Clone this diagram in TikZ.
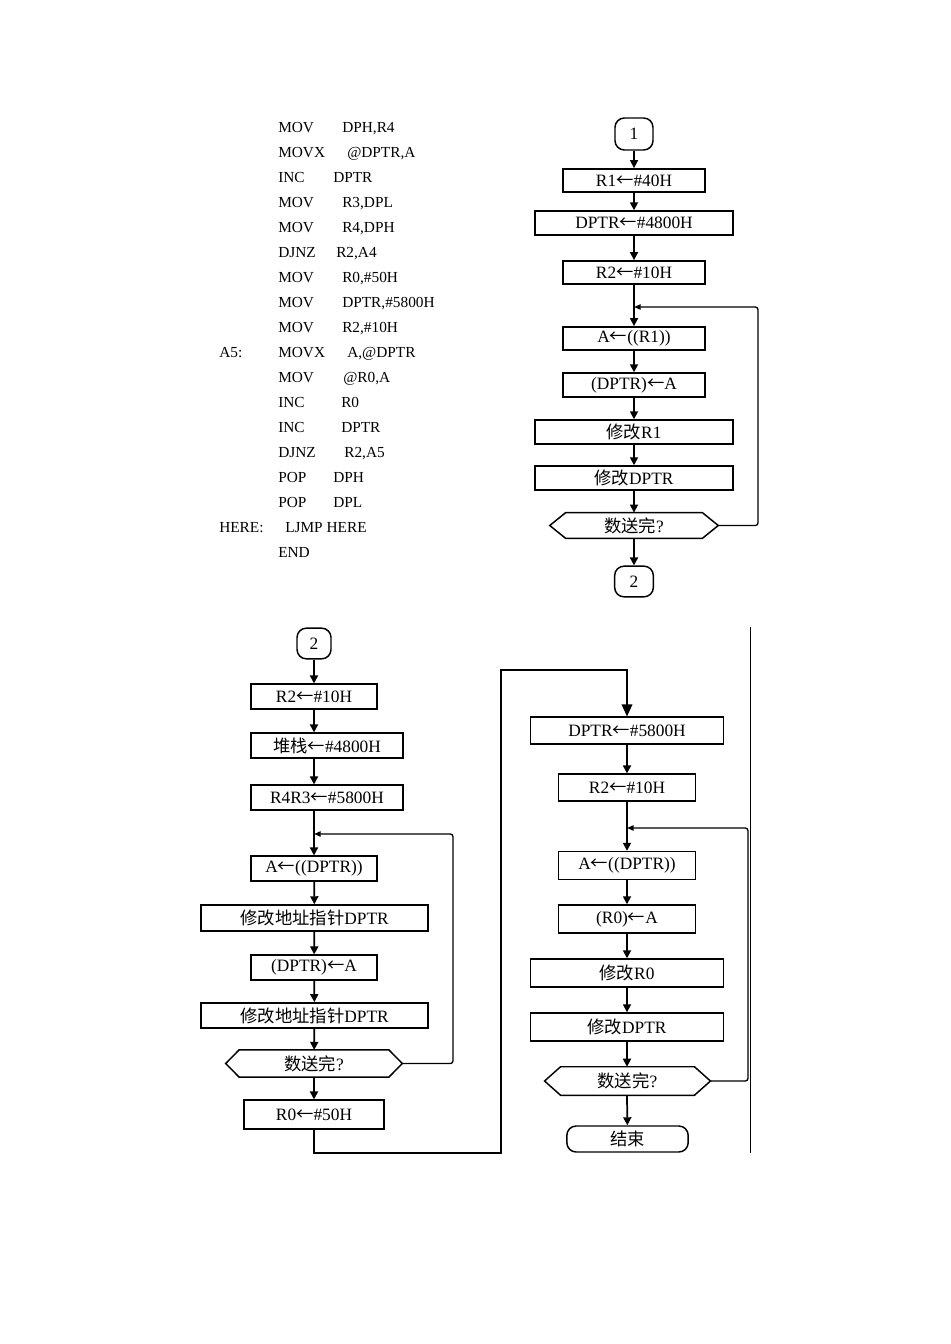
\documentclass[tikz,border=0pt]{standalone}
\usepackage{fontspec}
\setmainfont{Liberation Serif}
\newfontfamily\cjk{Noto Sans CJK SC}
\newcommand{\lar}{{\cjk ←}}
\usetikzlibrary{arrows.meta}
\begin{document}
\begin{tikzpicture}[x=0.75pt,y=-0.75pt,
  box/.style={draw,line width=1.1pt,inner sep=0pt,font=\fontsize{13}{13}\selectfont},
  term/.style={box,rounded corners=7pt},
  hex/.style={inner sep=0pt,font=\fontsize{13}{13}\selectfont},
  ar/.style={line width=1.3pt,-{Triangle[width=6pt,length=6pt]}},
  ln/.style={line width=1pt},
  la/.style={line width=1pt,-{Triangle[width=4pt,length=5pt]}},
  code/.style={anchor=base west,inner sep=0pt,font=\fontsize{11.5}{11.5}\selectfont}]
\useasboundingbox (0,0) rectangle (950,1344);
% code
\foreach \y/\m/\xo/\o in {133/MOV/342/{DPH,R4},158/MOVX/347/{@DPTR,A},183/INC/333/DPTR,208/MOV/342/{R3,DPL},233/MOV/342/{R4,DPH},258/DJNZ/336/{R2,A4},282/MOV/342/{R0,\#50H},307/MOV/342/{DPTR,\#5800H},332/MOV/342/{R2,\#10H},357/MOVX/347/{A,@DPTR},382/MOV/343/{@R0,A},407/INC/341/R0,432/INC/341/DPTR,457/DJNZ/344/{R2,A5},482/POP/333/DPH,507/POP/333/DPL}
  {\node[code] at (278,\y) {\m}; \node[code] at (\xo,\y) {\o};}
\node[code] (la5) at (219,357) {A5:};
\node[code] (lhere) at (219,532) {HERE:};
\node[code] at (285,532) {LJMP HERE};
\node[code] at (278,557) {END};

% ---------- top-right chart
\node[term,minimum width=28.5pt,minimum height=24pt] (c1) at (634,134) {1};
\node[box,minimum width=106.5pt,minimum height=17.5pt] (a1) at (634,180.5) {R1\lar\#40H};
\node[box,minimum width=148.5pt,minimum height=18pt] (a2) at (634,223) {DPTR\lar\#4800H};
\node[box,minimum width=106.5pt,minimum height=17.5pt] (a3) at (634,272.5) {R2\lar\#10H};
\coordinate (j1) at (634,307);
\node[box,minimum width=106.5pt,minimum height=17.5pt] (a4) at (634,338.5) {A\lar((R1))};
\node[box,minimum width=106.5pt,minimum height=18pt] (a5) at (634,385) {(DPTR)\lar A};
\node[box,minimum width=148.5pt,minimum height=18pt] (a6) at (634,432) {{\cjk 修改}R1};
\node[box,minimum width=148.5pt,minimum height=18pt] (a7) at (634,478) {{\cjk 修改}DPTR};
\node[hex,minimum width=126pt,minimum height=19pt] (d1) at (634,525.5) {{\cjk 数送完}?};
\draw[line width=1.1pt] (d1.west) -- ([xshift=12pt]d1.north west) -- ([xshift=-12pt]d1.north east) -- (d1.east) -- ([xshift=-12pt]d1.south east) -- ([xshift=12pt]d1.south west) -- cycle;
\node[term,minimum width=29pt,minimum height=23pt] (c2) at (634,581.5) {2};
\draw[ar] (c1) -- (a1);
\draw[ar] (a1) -- (a2);
\draw[ar] (a2) -- (a3);
\draw[ar] (a3) -- (a4);
\draw[ar] (a4) -- (a5);
\draw[ar] (a5) -- (a6);
\draw[ar] (a6) -- (a7);
\draw[ar] (a7) -- (d1);
\draw[ar] (d1) -- (c2);
\draw[la,rounded corners=2pt] (d1.east) -- (758,525.5) -- (758,307) -- (j1);

% ---------- bottom-left chart
\node[term,minimum width=25.5pt,minimum height=23pt] (b0) at (314,643.5) {2};
\node[box,minimum width=94.5pt,minimum height=18.5pt] (b1) at (314,696.5) {R2\lar\#10H};
\node[box,minimum width=114pt,minimum height=18.5pt] (b2) at (327,745.5) {{\cjk 堆栈}\lar\#4800H};
\node[box,minimum width=114pt,minimum height=18.5pt] (b3) at (327,797.5) {R4R3\lar\#5800H};
\coordinate (j2) at (314,834);
\node[box,minimum width=94.5pt,minimum height=18.5pt] (b4) at (314,868.5) {A\lar((DPTR))};
\node[box,minimum width=170pt,minimum height=19.5pt] (b5) at (314.5,918) {{\cjk 修改地址指针}DPTR};
\node[box,minimum width=94.5pt,minimum height=18.5pt] (b6) at (314,967.5) {(DPTR)\lar A};
\node[box,minimum width=170pt,minimum height=19pt] (b7) at (314.5,1015.5) {{\cjk 修改地址指针}DPTR};
\node[hex,minimum width=132pt,minimum height=20pt] (d2) at (314,1063.5) {{\cjk 数送完}?};
\draw[line width=1.1pt] (d2.west) -- ([xshift=10pt]d2.north west) -- ([xshift=-10pt]d2.north east) -- (d2.east) -- ([xshift=-10pt]d2.south east) -- ([xshift=10pt]d2.south west) -- cycle;
\node[box,minimum width=105pt,minimum height=21.5pt] (b8) at (314,1114.5) {R0\lar\#50H};
\draw[ar] (b0) -- (b1);
\draw[ar] (b1) -- (b1|-b2.north);
\draw[ar] (b1|-b2.south) -- (b1|-b3.north);
\draw[ar] (b1|-b3.south) -- (b4);
\draw[ar] (b4) -- (b5);
\draw[ar] (b5) -- (b6);
\draw[ar] (b6) -- (b7);
\draw[ar] (b7) -- (d2);
\draw[ar] (d2) -- (b8);
\draw[la,rounded corners=2pt] (d2.east) -- (453,1063.5) -- (453,834) -- (j2);

% ---------- bottom-right chart
\node[box,minimum width=145pt,minimum height=20pt] (e1) at (627,730.5) {DPTR\lar\#5800H};
\node[box,minimum width=103pt,minimum height=20pt] (e2) at (627,787.5) {R2\lar\#10H};
\coordinate (j3) at (627,828);
\node[box,minimum width=103pt,minimum height=21pt] (e3) at (627,865.5) {A\lar((DPTR))};
\node[box,minimum width=103pt,minimum height=21pt] (e4) at (627,919) {(R0)\lar A};
\node[box,minimum width=145pt,minimum height=21pt] (e5) at (627,973) {{\cjk 修改}R0};
\node[box,minimum width=145pt,minimum height=21pt] (e6) at (627,1027) {{\cjk 修改}DPTR};
\node[hex,minimum width=124pt,minimum height=21pt] (d3) at (627.5,1081) {{\cjk 数送完}?};
\draw[line width=1.1pt] (d3.west) -- ([xshift=12pt]d3.north west) -- ([xshift=-12pt]d3.north east) -- (d3.east) -- ([xshift=-12pt]d3.south east) -- ([xshift=12pt]d3.south west) -- cycle;
\node[term,minimum width=91pt,minimum height=19.5pt] (e7) at (627.5,1139) {\cjk 结束};
\draw[ar] (e1) -- (e2);
\draw[ar] (e2) -- (e3);
\draw[ar] (e3) -- (e4);
\draw[ar] (e4) -- (e5);
\draw[ar] (e5) -- (e6);
\draw[ar] (e6) -- (e6|-d3.north);
\draw[ar] (e6|-d3.south) -- (e7);
\draw[la,rounded corners=2pt] (d3.east) -- (748,1081) -- (748,828) -- (j3);

% link between columns
\draw[ln,-{Triangle[width=8pt,length=9pt]}] (b8) -- (314,1153) -- (501,1153) -- (501,670) -- (627,670) -- (e1);
\draw[line width=0.6pt] (750,627) -- (750,1153);
\end{tikzpicture}
\end{document}
